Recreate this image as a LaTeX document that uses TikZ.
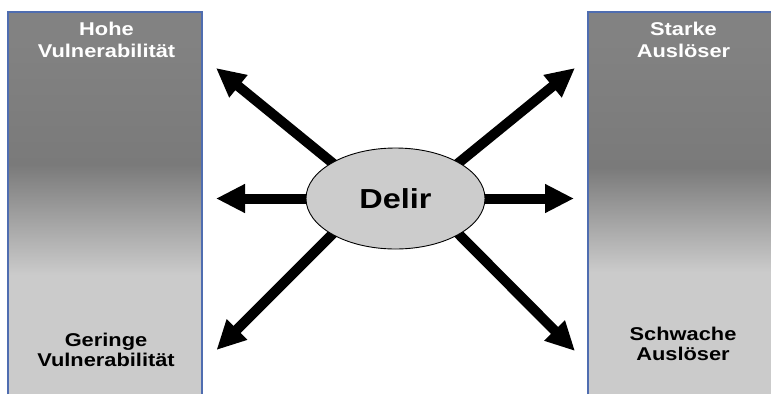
\documentclass[tikz,border=0pt]{standalone}
\usepackage{fontspec}
\setmainfont{Liberation Sans}
\newfontfamily\lblfont{Liberation Sans}[FakeStretch=1.18]
\usetikzlibrary{arrows.meta,backgrounds,shapes.geometric}
\definecolor{bartop}{HTML}{828282}
\definecolor{barmid}{HTML}{7A7A7A}
\definecolor{barlight}{HTML}{CBCBCB}
\definecolor{barborder}{HTML}{4F6DB0}
\definecolor{ellfill}{HTML}{CCCCCC}
\begin{document}
\begin{tikzpicture}[x=1pt,y=-1pt,
  toplbl/.style={font=\lblfont\bfseries\fontsize{18.5}{22.7}\selectfont, align=center, inner sep=0pt, anchor=north},
  botlbl/.style={font=\lblfont\bfseries\fontsize{18.5}{20}\selectfont, align=center, inner sep=0pt, anchor=north, text=black},
  bigarrow/.style={line width=10pt, -{Triangle[length=29pt,width=27pt]}},
  delirnode/.style={ellipse, draw=black, line width=0.9pt, fill=ellfill, minimum width=179pt, minimum height=101pt, inner sep=0pt, font=\lblfont\bfseries\fontsize{27.5}{30}\selectfont}
]
\useasboundingbox (0,0) rectangle (771,394);

% central ellipse
\node[delirnode] (d) at (395.5,198.5) {Delir};

% arrow tips
\coordinate (ul) at (216,68);
\coordinate (ur) at (575,68);
\coordinate (l)  at (216,198.5);
\coordinate (r)  at (574,198.5);
\coordinate (ll) at (216.5,350);
\coordinate (lr) at (575,351);

\begin{pgfonlayer}{background}
  % left bar
  \fill[bartop] (8,12) rectangle (202,40);
  \shade[top color=bartop, bottom color=barmid] (8,39.5) rectangle (202,165);
  \shade[top color=barmid, bottom color=barlight] (8,164.5) rectangle (202,275);
  \fill[barlight] (8,274.5) rectangle (202,394);
  \draw[barborder, line width=1.2pt] (8,394) -- (8,12) -- (202,12) -- (202,394);
  % right bar
  \fill[bartop] (588,12) rectangle (771,40);
  \shade[top color=bartop, bottom color=barmid] (588,39.5) rectangle (771,168);
  \shade[top color=barmid, bottom color=barlight] (588,167.5) rectangle (771,272);
  \fill[barlight] (588,271.5) rectangle (771,394);
  \draw[barborder, line width=1.2pt] (588,394) -- (588,12) -- (771,12);
  % arrows
  \draw[bigarrow, shorten <=-8pt] (d.north west) -- (ul);
  \draw[bigarrow, shorten <=-8pt] (d.north east) -- (ur);
  \draw[bigarrow, shorten <=-8pt] (d.west) -- (l);
  \draw[bigarrow, shorten <=-8pt] (d.east) -- (r);
  \draw[bigarrow, shorten <=-8pt] (d.south west) -- (ll);
  \draw[bigarrow, shorten <=-8pt] (d.south east) -- (lr);
\end{pgfonlayer}

% labels
\node[toplbl, text=white] (hv) at (106.5,21.5) {Hohe\\Vulnerabilität};
\node[toplbl, text=white] (sa) at (683.5,21.5) {Starke\\Auslöser};
\node[botlbl] (gv) at (106,332.5) {Geringe\\Vulnerabilität};
\node[botlbl] (wa) at (683,326.5) {Schwache\\Auslöser};
\end{tikzpicture}
\end{document}
